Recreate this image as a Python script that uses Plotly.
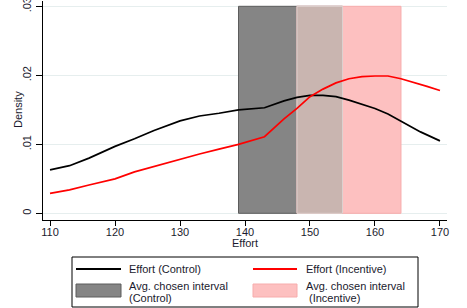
import plotly.graph_objects as go

# ---- data ----
effort_control_x = [110, 113, 116, 120, 123, 126, 130, 133, 136, 139, 143, 146, 148, 150, 152, 154, 156, 158, 160, 162, 164, 166, 167, 170]
effort_control_y = [0.0063, 0.0069, 0.0080, 0.0097, 0.0108, 0.0120, 0.0134, 0.0141, 0.0145, 0.0150, 0.0153, 0.0163, 0.0168, 0.0171, 0.0171, 0.0169, 0.0164, 0.0158, 0.0152, 0.0144, 0.0134, 0.0123, 0.0118, 0.0105]

effort_incentive_x = [110, 113, 116, 120, 123, 126, 130, 133, 136, 139, 143, 146, 148, 150, 152, 154, 156, 158, 160, 162, 164, 166, 168, 170]
effort_incentive_y = [0.0029, 0.0034, 0.0041, 0.0050, 0.0060, 0.0068, 0.0078, 0.0086, 0.0093, 0.0100, 0.0111, 0.0137, 0.0152, 0.0169, 0.0180, 0.0189, 0.0195, 0.0198, 0.0199, 0.0199, 0.0195, 0.0190, 0.0184, 0.0178]

interval_control = [139, 155]
interval_incentive = [148, 164]
interval_height = 0.03

x_ticks = [110, 120, 130, 140, 150, 160, 170]
y_ticks = [0, 0.01, 0.02, 0.03]
y_ticktext = ["0", ".01", ".02", ".03"]

FONT = "Liberation Sans, Arial, sans-serif"
TXT = "#1a1a2e"

GRAY = "#858585"
PINK = "#fdc0c0"
OVERLAP = "#c9b5b0"

fig = go.Figure()


def rect(x0, x1, fill, line):
    fig.add_trace(go.Scatter(
        x=[x0, x1, x1, x0, x0], y=[0, 0, interval_height, interval_height, 0],
        mode="lines", fill="toself", fillcolor=fill,
        line=dict(color=line, width=1), hoverinfo="skip", showlegend=False))


ov0 = max(interval_control[0], interval_incentive[0])
ov1 = min(interval_control[1], interval_incentive[1])
rect(interval_control[0], interval_control[1], GRAY, "#5c5c5c")
rect(interval_incentive[0], interval_incentive[1], PINK, "#f7acac")
rect(ov0, ov1, OVERLAP, "#dcd2d0")

fig.add_trace(go.Scatter(x=effort_control_x, y=effort_control_y, mode="lines",
                         line=dict(color="black", width=1.7), showlegend=False))
fig.add_trace(go.Scatter(x=effort_incentive_x, y=effort_incentive_y, mode="lines",
                         line=dict(color="#ff0000", width=1.7), showlegend=False))

# plot area in pixels: x 43..447, y 1..220
L, R, T, B = 43, 447, 1, 220
W, H = R - L, B - T


def px(x):
    return (x - L) / W


def py(y):
    return (B - y) / H


shapes = []
anns = []
# legend frame
shapes.append(dict(type="rect", xref="paper", yref="paper", x0=px(72), x1=px(418), y0=py(307), y1=py(257),
                   line=dict(color="black", width=1), fillcolor="white"))
# lines
shapes.append(dict(type="line", xref="paper", yref="paper", x0=px(76), x1=px(121), y0=py(269), y1=py(269),
                   line=dict(color="black", width=2)))
shapes.append(dict(type="line", xref="paper", yref="paper", x0=px(253), x1=px(297), y0=py(269), y1=py(269),
                   line=dict(color="#ff0000", width=2)))
# boxes
shapes.append(dict(type="rect", xref="paper", yref="paper", x0=px(76), x1=px(121), y0=py(297), y1=py(284),
                   line=dict(color="#5c5c5c", width=1), fillcolor=GRAY))
shapes.append(dict(type="rect", xref="paper", yref="paper", x0=px(253), x1=px(297), y0=py(297), y1=py(284),
                   line=dict(color="#f7acac", width=1), fillcolor=PINK))


def ann(text, x, y, xanchor="left", angle=0):
    anns.append(dict(text=text, x=px(x), y=py(y), xref="paper", yref="paper", xanchor=xanchor, yanchor="middle",
                     showarrow=False, textangle=angle, font=dict(family=FONT, size=11, color=TXT)))


ann("Effort (Control)", 127, 269)
ann("Effort (Incentive)", 304, 269)
ann("Avg. chosen interval", 127, 286)
ann("(Control)", 127, 298)
ann("Avg. chosen interval", 304, 286)
ann("(Incentive)", 306.5, 298)
# axis titles
ann("Effort", 245, 243, xanchor="center")
ann("Density", 18, 110, xanchor="center", angle=-90)

fig.update_layout(
    width=467, height=308,
    margin=dict(l=L, r=467 - R, t=T, b=308 - B, autoexpand=False),
    paper_bgcolor="white", plot_bgcolor="white",
    showlegend=False,
    font=dict(family=FONT, size=11, color=TXT),
    shapes=shapes, annotations=anns,
    xaxis=dict(range=[108.92, 171.08], tickvals=x_ticks, ticks="outside", ticklen=5, tickwidth=1,
               tickcolor="black", showline=True, linecolor="black", linewidth=1.3, showgrid=False,
               zeroline=False, automargin=False, ticklabelstandoff=-3, ticklabeloverflow="allow",
               tickfont=dict(size=11)),
    yaxis=dict(range=[-0.00097, 0.03077], tickvals=y_ticks, ticktext=y_ticktext, tickangle=-90,
               ticks="outside", ticklen=6, tickwidth=1, tickcolor="black", showline=True,
               linecolor="black", linewidth=1.3, showgrid=True, gridcolor="#e6eeee", gridwidth=1,
               zeroline=False, automargin=False, ticklabeloverflow="allow",
               tickfont=dict(size=11)),
)

fig.write_html(
    "out.html",
    config={"displayModeBar": False},
    post_script="document.body.style.margin='0';document.body.style.overflow='hidden';",
)
